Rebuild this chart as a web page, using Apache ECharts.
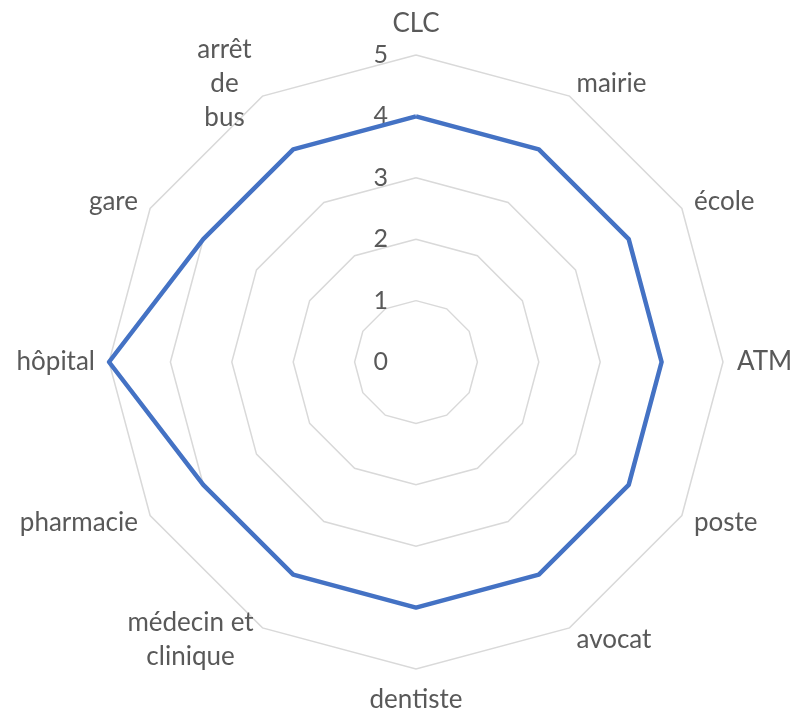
<!DOCTYPE html>
<html>
<head>
<meta charset="utf-8">
<script src="https://cdn.jsdelivr.net/npm/echarts@6/dist/echarts.min.js"></script>
<style>html,body{margin:0;padding:0;background:#fff}#c{width:796px;height:714px}</style>
</head>
<body>
<div id="c"></div>
<script>
// categories in clockwise order starting at the top
const categories = ['CLC', 'mairie', 'école', 'ATM', 'poste', 'avocat', 'dentiste', 'médecin et\nclinique', 'pharmacie', 'hôpital', 'gare', 'arrêt\nde\nbus'];
const values = [4, 4, 4, 4, 4, 4, 4, 4, 4, 5, 4, 4];
const axisMax = 5;
const tickStep = 1;

// ECharts radar runs counter-clockwise: keep the first item, reverse the rest
const order = [0].concat(categories.map((_, i) => i).slice(1).reverse());
const indCats = order.map(i => categories[i]);
const indVals = order.map(i => values[i]);

const FONT = 'Lato';
const chart = echarts.init(document.getElementById('c'));
chart.setOption({
  animation: false,
  radar: {
    center: [416, 362],
    radius: 307,
    startAngle: 90,
    shape: 'polygon',
    splitNumber: axisMax / tickStep,
    axisName: {
      color: '#595959', fontSize: 26, fontFamily: FONT, lineHeight: 34,
      formatter: function (name) {
        if (name.indexOf('\n') < 0) return name;
        const key = name.length > 12 ? 'w' : 'n';
        return name.split('\n').map(l => '{' + key + '|' + l + '}').join('\n');
      },
      rich: {
        w: { width: 130, align: 'center', color: '#595959', fontSize: 26, fontFamily: FONT, lineHeight: 34 },
        n: { width: 62, align: 'center', color: '#595959', fontSize: 26, fontFamily: FONT, lineHeight: 34 }
      }
    },
    nameGap: 14,
    axisLine: { show: false },
    axisTick: { show: false },
    splitArea: { show: false },
    splitLine: { lineStyle: { color: '#D9D9D9', width: 1.5 } },
    axisLabel: { show: false },
    indicator: indCats.map((c, i) => {
      const ind = { name: c, min: 0, max: axisMax };
      if (i === 0) ind.axisLabel = { show: true, showMinLabel: true, color: '#595959', fontSize: 25, fontFamily: FONT, margin: 28 };
      return ind;
    })
  },
  series: [{
    type: 'radar',
    symbol: 'none',
    data: [{ value: indVals }],
    lineStyle: { color: '#4472C4', width: 4.5 },
    itemStyle: { color: '#4472C4' }
  }]
});
</script>
</body>
</html>
